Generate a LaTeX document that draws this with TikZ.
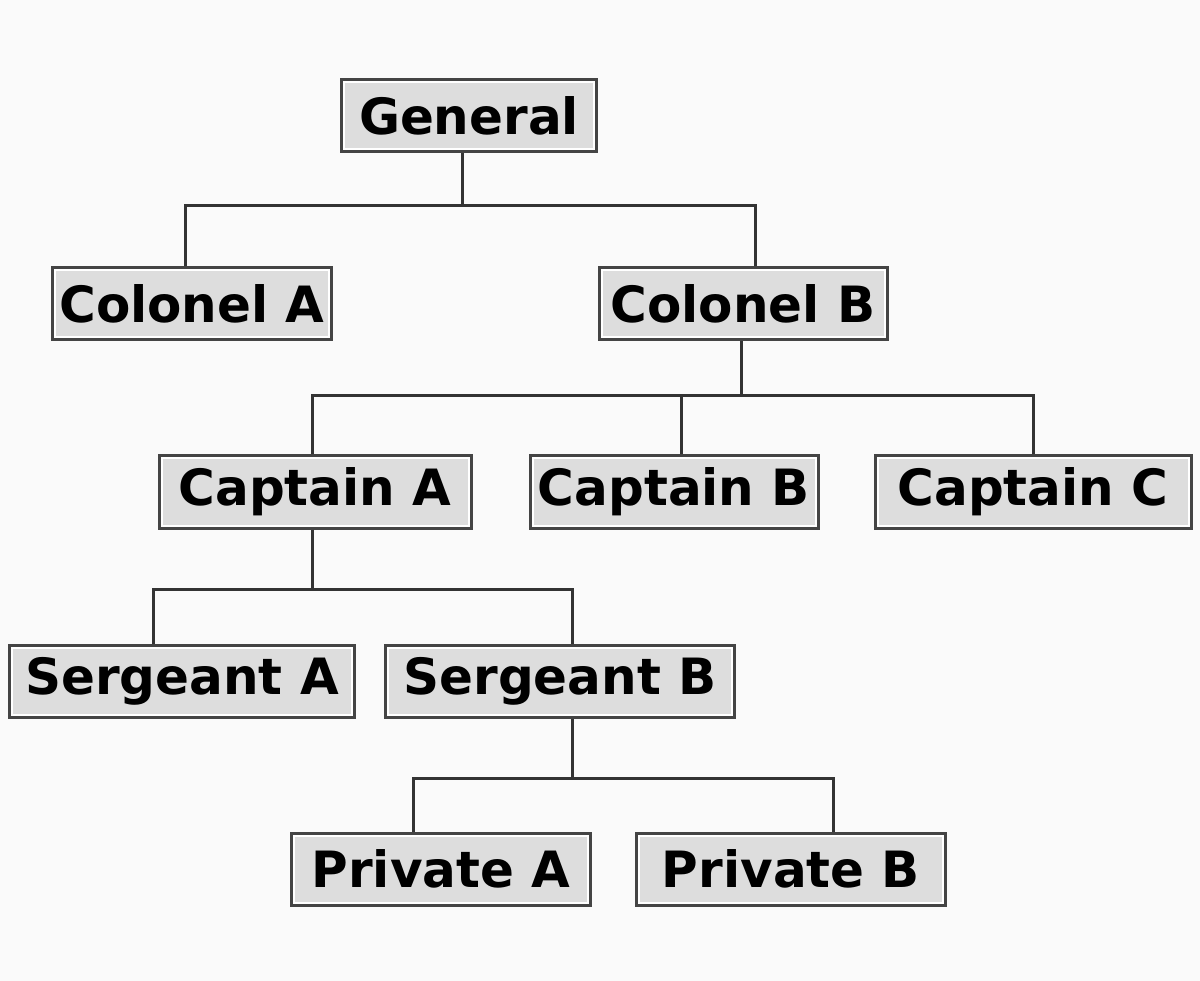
\documentclass[tikz,border=0pt]{standalone}
\usepackage{fontspec}
\setmainfont{DejaVu Sans}
\usepackage{tikz}
\usetikzlibrary{positioning}
\definecolor{boxfill}{HTML}{DDDDDD}
\definecolor{boxline}{HTML}{444444}
\definecolor{linkline}{HTML}{333333}
\definecolor{paper}{HTML}{FAFAFA}
\tikzset{
    rank/.style={rectangle, draw=boxline, line width=3pt, fill=boxfill,
        minimum height=72pt, inner xsep=4pt, inner ysep=0pt,
        font=\fontsize{50}{60}\selectfont\bfseries,
        path picture={\draw[white, line width=7pt]
            (path picture bounding box.south west) rectangle
            (path picture bounding box.north east);}}, % box with white rim
    link/.style={draw=linkline, line width=3pt}, % the tree lines
}

\begin{document}
\begin{tikzpicture}[x=1pt, y=-1pt]
    \fill[paper] (0,0) rectangle (1200,981);
    \useasboundingbox (0,0) rectangle (1200,981);

    \node[rank, minimum width=255pt] (gen) at (469,116) {General};
    \node[rank, minimum width=279pt] (cola) at (192,304) {Colonel A};
    \node[rank, minimum width=288pt] (colb) at (743,304) {Colonel B};
    \node[rank, minimum width=312pt] (capa) at (315,492) {Captain A};
    \node[rank, minimum width=288pt] (capb) at (674,492) {Captain B};
    \node[rank, minimum width=316pt] (capc) at (1033,492) {Captain C};
    \node[rank, minimum width=345pt] (sgta) at (182,681) {Sergeant A};
    \node[rank, minimum width=349pt] (sgtb) at (560,681) {Sergeant B};
    \node[rank, minimum width=299pt] (pria) at (441,869) {Private A};
    \node[rank, minimum width=309pt] (prib) at (791,869) {Private B};

    % general
    \draw[link] ([xshift=-7pt]gen.south) -- ++(0,52) coordinate (genbar);
    \draw[link] ([xshift=-7pt]cola.north) |- (genbar);
    \draw[link] ([xshift=12pt]colb.north) |- (genbar);

    % colonel B
    \draw[link] ([xshift=-2pt]colb.south) -- ++(0,54) coordinate (colbar);
    \draw[link] ([xshift=-3pt]capa.north) |- (colbar);
    \draw[link] ([xshift=7pt]capb.north) |- (colbar);
    \draw[link] (capc.north) |- (colbar);

    % captain A
    \draw[link] ([xshift=-3pt]capa.south) -- ++(0,60) coordinate (capbar);
    \draw[link] ([xshift=-29pt]sgta.north) |- (capbar);
    \draw[link] ([xshift=12pt]sgtb.north) |- (capbar);

    % sergeant B
    \draw[link] ([xshift=12pt]sgtb.south) -- ++(0,60) coordinate (sgtbar);
    \draw[link] ([xshift=-28pt]pria.north) |- (sgtbar);
    \draw[link] ([xshift=42pt]prib.north) |- (sgtbar);
\end{tikzpicture}
\end{document}
